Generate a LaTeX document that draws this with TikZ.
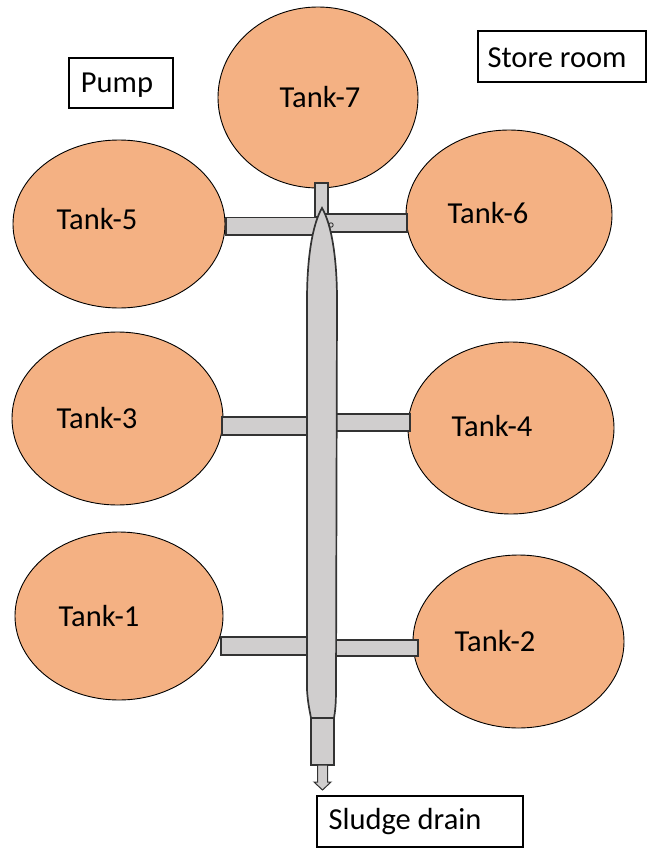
\documentclass[tikz,border=0pt]{standalone}
\usepackage{fontspec}
\setmainfont{Carlito}
\usetikzlibrary{shapes.geometric}
\definecolor{tankfill}{HTML}{F4B183}
\definecolor{pipefill}{HTML}{D0CECE}
\definecolor{pipeline}{HTML}{333333}
\begin{document}
\begin{tikzpicture}[x=1pt,y=-1pt,
  tank/.style={ellipse, draw=black, line width=0.9pt, fill=tankfill, inner sep=0pt},
  lbl/.style={font=\fontsize{30.5}{36}\selectfont, inner sep=0pt},
  tagbox/.style={draw=black, line width=1.1pt, fill=white},
  pipe/.style={draw=pipeline, line width=1.7pt, fill=pipefill}
]
\useasboundingbox (0,0) rectangle (651,848);
% tanks
\node[tank, minimum width=200pt, minimum height=181pt] (t7) at (318,97.5) {};
\node[tank, minimum width=212pt, minimum height=168pt] (t5) at (119,224) {};
\node[tank, minimum width=206pt, minimum height=170pt] (t6) at (509,215) {};
\node[tank, minimum width=211pt, minimum height=173pt] (t3) at (117.5,418.5) {};
\node[tank, minimum width=206pt, minimum height=172pt] (t4) at (511,428) {};
\node[tank, minimum width=208pt, minimum height=168pt] (t1) at (119,616) {};
\node[tank, minimum width=211pt, minimum height=173pt] (t2) at (518.5,641.5) {};
% tank labels
\node[lbl] (l7) at (320,97) {Tank-7};
\node[lbl] (l5) at (97,219) {Tank-5};
\node[lbl] (l6) at (488,213) {Tank-6};
\node[lbl] (l3) at (97,418) {Tank-3};
\node[lbl] (l4) at (492,426) {Tank-4};
\node[lbl] (l1) at (99,616) {Tank-1};
\node[lbl] (l2) at (495,641) {Tank-2};
% text boxes
\draw[tagbox] (69,58) rectangle (173,108);
\node[lbl] (pump) at (117,85) {Pump};
\draw[tagbox] (478,31) rectangle (646,82);
\node[lbl] (store) at (557,58) {Store room};
\draw[tagbox] (317,796) rectangle (523,847);
\node[lbl] (drain) at (405,822) {Sludge drain};
% small pipe from Tank-7
\draw[pipe] (315,183) rectangle (328,217);
% horizontal pipes
\draw[pipe] (226,217.5) rectangle (320,235);
\draw[pipe] (324,214) rectangle (407,232);
\draw[pipe] (222,417) rectangle (320,435);
\draw[pipe] (322,414) rectangle (410,431);
\draw[pipe] (221,637) rectangle (320,655);
\draw[pipe] (322,640) rectangle (418,656);
% main collector pipe
\draw[pipe] (322,208) .. controls (312,225) and (307,260) .. (307,300)
  -- (307,690) .. controls (308,705) and (310,712) .. (311,718)
  -- (334,718) .. controls (335,712) and (336,705) .. (336,690)
  -- (337,300) .. controls (337,260) and (332,225) .. (322,208) -- cycle;
\draw[pipeline, line width=0.9pt] (331,225) circle (2.2pt);
% outlet
\draw[pipe] (311,718) rectangle (334,765);
\coordinate (outlet) at (322.5,765);
\draw[draw=pipeline, line width=1pt, fill=pipefill]
  (317.5,765) -- (327.5,765) -- (327.5,782) -- (331,782) -- (322.5,790)
  -- (314,782) -- (317.5,782) -- cycle;
\end{tikzpicture}
\end{document}
